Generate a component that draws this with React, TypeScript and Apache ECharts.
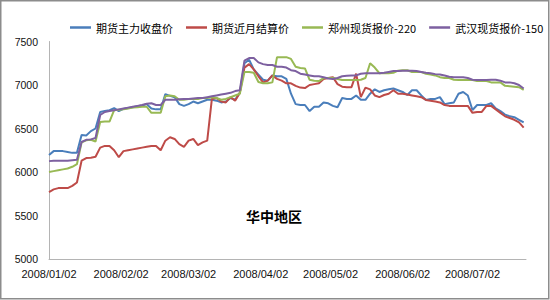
import React, { useEffect, useRef } from "react";
import * as echarts from "echarts";

// Calendar days shown on the category axis (2008/01/02 .. 2008/07/25)
const firstDay = Date.UTC(2008, 0, 2);
const dayCount = 206;
const pad = (n: number) => (n < 10 ? "0" + n : "" + n);
const allDays: string[] = [];
for (let i = 0; i < dayCount; i++) {
  const d = new Date(firstDay + i * 86400000);
  allDays.push(`${d.getUTCFullYear()}/${pad(d.getUTCMonth() + 1)}/${pad(d.getUTCDate())}`);
}
const sampleDates = allDays.filter((_, i) => i % 2 === 0);

const seriesNames = ["期货主力收盘价", "期货近月结算价", "郑州现货报价-220", "武汉现货报价-150"];

const futuresClose = [
  6195, 6240, 6240, 6240, 6230, 6220, 6220,
  6425, 6420, 6470, 6500,
  6690, 6700, 6710, 6735, 6700, 6725, 6735, 6745, 6755, 6765, 6780,
  6730, 6720, 6720,
  6895, 6875, 6860, 6780, 6760, 6780, 6810, 6790, 6810, 6830,
  6830, 6820, 6800, 6810, 6850, 6830, 6910,
  7250, 7290, 7180, 7120, 7060, 7050, 7110, 7100, 7100, 7070,
  6900, 6780, 6770, 6770, 6700, 6750, 6750, 6800, 6790, 6760,
  6745, 6850, 6840, 6840, 6880, 6830, 6830, 6900, 6950, 6920,
  6940, 6950, 6960, 6940, 6920, 6885, 6940, 6940, 6880, 6828,
  6840, 6840, 6860, 6780, 6790, 6800, 6900, 6920, 6880, 6713,
  6770, 6770, 6770, 6790, 6730, 6700, 6660, 6640, 6630, 6600, 6570,
];

const futuresSettle = [
  5770, 5800, 5815, 5815, 5815, 5840, 5880,
  6130, 6160, 6165, 6175,
  6280, 6300, 6300, 6250, 6170, 6240, 6250, 6260, 6270, 6280, 6290,
  6300, 6300, 6250,
  6360, 6400, 6380, 6320, 6290, 6360, 6380, 6310, 6340, 6360,
  6840, 6850, 6810, 6800, 6860, 6820, 6910,
  7200, 7240, 7180, 7100, 7030, 7050, 7110, 7070, 7050, 7020,
  7020, 6990, 6970, 6965, 7000, 7010, 7020, 7070, 7080, 7090,
  7010, 6980, 6975, 6975, 7130, 6860, 6970, 6950, 6880, 6860,
  6885, 6900, 6940, 6900, 6900, 6890, 6880, 6870, 6860, 6828,
  6820, 6810, 6800, 6770, 6760, 6760, 6760, 6760, 6760, 6680,
  6690, 6690, 6760, 6760, 6720, 6680, 6640, 6620, 6600, 6570, 6510,
];

const zhengzhouSpot = [
  6000, 6010, 6020, 6030, 6040, 6060, 6090,
  6340, 6365, 6370, 6350,
  6575, 6580, 6580, 6710, 6715, 6720, 6730, 6740, 6745, 6750, 6750,
  6680, 6680, 6680,
  6870, 6880, 6870, 6830, 6830, 6840, 6840, 6840, 6850, 6850,
  6860, 6850, 6830, 6840, 6860, 6880, 6900,
  7150, 7150, 7140, 7035, 7020, 7020, 7030, 7320, 7320, 7320,
  7300, 7210, 7195, 7190, 7060, 7050, 7045, 7080, 7080, 7080,
  7070, 7057, 7057, 7057, 7057, 7060, 7080, 7250, 7200, 7135,
  7135, 7135, 7140, 7165, 7170, 7170, 7150, 7150, 7150, 7130,
  7120, 7110, 7090, 7080, 7080, 7060, 7057, 7057, 7057, 7057,
  7045, 7045, 7045, 7030, 7030, 7030, 6990, 6985, 6980, 6975, 6945,
];

const wuhanSpot = [
  6125, 6130, 6130, 6130, 6130, 6135, 6140,
  6345, 6370, 6375, 6390,
  6655, 6690, 6700, 6710, 6720, 6730, 6740, 6750, 6760, 6770, 6785,
  6790, 6770, 6770,
  6830, 6830, 6830, 6835, 6840, 6840, 6845, 6850, 6850, 6860,
  6870, 6880, 6890, 6900, 6910, 6930, 6940,
  7280, 7310, 7310, 7260, 7240, 7230, 7230, 7210, 7210, 7200,
  7170, 7160, 7130, 7120, 7110, 7100, 7100, 7090, 7075, 7070,
  7080, 7100, 7105, 7110, 7110, 7130, 7135, 7135, 7135, 7135,
  7140, 7150, 7160, 7160, 7165, 7165, 7165, 7160, 7150, 7140,
  7135, 7125, 7120, 7110, 7095, 7090, 7090, 7090, 7080, 7060,
  7057, 7057, 7057, 7060, 7060, 7050, 7030, 7030, 7020, 7000, 6960,
];

const seriesValues = [futuresClose, futuresSettle, zhengzhouSpot, wuhanSpot];
const seriesColors = ["#4A7EBB", "#BE4B48", "#98B954", "#7D60A0"];

const yMin = 5000;
const yMax = 7500;
const yStep = 500;
const regionLabel = "华中地区";

export default function App() {
  const ref = useRef<HTMLDivElement>(null);
  useEffect(() => {
    document.body.style.margin = "0";
    const chart = echarts.init(ref.current!, null, { renderer: "svg" });
    chart.setOption({
      animation: false,
      backgroundColor: "#ffffff",
      grid: { left: 49, right: 24, top: 41.5, bottom: 41, containLabel: false },
      legend: {
        left: 70,
        top: 22,
        width: 480,
        padding: 0,
        icon: "rect",
        itemWidth: 21,
        itemHeight: 2.5,
        itemGap: 13,
        textStyle: { fontSize: 11, color: "#000", fontFamily: "Noto Sans CJK SC" },
        data: seriesNames,
      },
      xAxis: {
        type: "category",
        data: allDays,
        boundaryGap: false,
        axisLine: { lineStyle: { color: "#B4B4B4", width: 1 } },
        axisTick: { show: false },
        axisLabel: {
          interval: (_i: number, v: string) => v.endsWith("/02"),
          fontSize: 11,
          color: "#111",
          margin: 9,
          fontFamily: "Liberation Sans",
        },
        splitLine: { show: false },
      },
      yAxis: {
        type: "value",
        min: yMin,
        max: yMax,
        interval: yStep,
        axisLine: { show: true, lineStyle: { color: "#B4B4B4", width: 1 } },
        axisTick: { show: false },
        axisLabel: {
          fontSize: 10.5,
          color: "#111",
          margin: 11,
          fontFamily: "Liberation Sans",
          formatter: (v: number) => String(v),
        },
        splitLine: { show: false },
      },
      series: seriesNames.map((name, k) => ({
        name,
        type: "line",
        symbol: "none",
        data: sampleDates.map((d, i) => [d, seriesValues[k][i]]),
        lineStyle: { color: seriesColors[k], width: 2 },
        itemStyle: { color: seriesColors[k] },
      })),
      graphic: [
        {
          type: "rect",
          shape: { x: 0.75, y: 0.75, width: 548, height: 298 },
          style: { fill: "none", stroke: "#8C8C8C", lineWidth: 1.5 },
          silent: true,
        },
        {
          type: "text",
          x: 274,
          y: 216,
          style: {
            text: regionLabel,
            fontSize: 14,
            fontWeight: "bold",
            fontFamily: "Noto Sans CJK SC",
            fill: "#000",
            align: "center",
            verticalAlign: "middle",
          },
        },
      ],
    });
    return () => chart.dispose();
  }, []);
  return (
    <div
      ref={ref}
      style={{ position: "absolute", left: 0, top: 0, width: 550, height: 300 }}
    />
  );
}
